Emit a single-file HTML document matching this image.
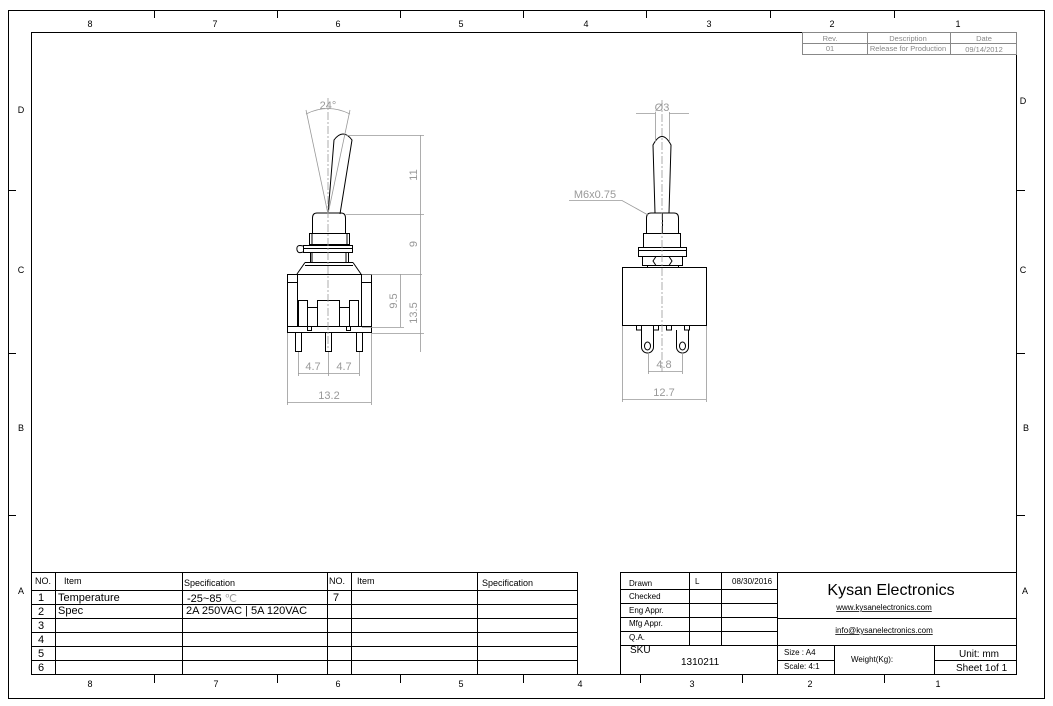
<!DOCTYPE html>
<html><head><meta charset="utf-8"><style>
html,body{margin:0;padding:0;background:#fff;}
svg{display:block;font-family:"Liberation Sans",sans-serif;}
</style></head><body>
<svg width="1053" height="706" viewBox="0 0 1053 706" xmlns="http://www.w3.org/2000/svg">
<rect x="0" y="0" width="1053" height="706" fill="#fff"/>
<g fill="none" stroke="#000" stroke-width="1">
<rect x="8.5" y="10.5" width="1036" height="688"/>
<rect x="31.5" y="32.5" width="985" height="642"/>
<!-- top ticks -->
<path d="M154.5 10v8M277.5 10v8M400.5 10v8M523.5 10v8M646.5 10v8M770.5 10v8M894.5 10v8"/>
<path d="M154.5 675v8M277.5 675v8M400.5 675v8M523.5 675v8M640.5 675v8M742.5 675v8M884.5 675v8"/>
<path d="M8 190.5h8M8 353.5h8M8 515.5h8M1017 190.5h8M1017 353.5h8M1017 515.5h8"/>
</g>
<g font-size="9" fill="#000" text-anchor="middle">
<text x="90" y="27">8</text><text x="215" y="27">7</text><text x="338" y="27">6</text><text x="461" y="27">5</text><text x="586" y="27">4</text><text x="709" y="27">3</text><text x="832" y="27">2</text><text x="958" y="27">1</text>
<text x="90" y="687">8</text><text x="216" y="687">7</text><text x="338" y="687">6</text><text x="461" y="687">5</text><text x="580" y="687">4</text><text x="692" y="687">3</text><text x="810" y="687">2</text><text x="938" y="687">1</text>
<text x="21" y="113">D</text><text x="21" y="273">C</text><text x="21" y="431">B</text><text x="21" y="594">A</text>
<text x="1023" y="104">D</text><text x="1023" y="273">C</text><text x="1026" y="431">B</text><text x="1025" y="594">A</text>
</g>
<!-- rev table -->
<g fill="none" stroke="#888" stroke-width="1">
<rect x="802.5" y="32.5" width="214" height="22"/>
<path d="M802 43.5h214M867.5 32v22M950.5 32v22"/>
</g>
<g font-size="7.5" fill="#888" text-anchor="middle">
<text x="830" y="41">Rev.</text><text x="908" y="41">Description</text><text x="984" y="41">Date</text>
<text x="830" y="51">01</text><text x="908" y="51">Release for Production</text><text x="984" y="52">09/14/2012</text>
</g>

<!-- LEFT VIEW -->
<g fill="none" stroke="#000" stroke-width="1">
<!-- lever -->
<path d="M328 214 L334 140 Q343 128 352 140 L340 214"/>
<path d="M312.5 233 V218 Q312.5 213 317 213 H341 Q345.5 213 345.5 218 V233"/>
<rect x="309.5" y="233.5" width="40" height="11"/>
<path d="M312 233.5v11M347 233.5v11M312 252.5v10M346 252.5v10"/>
<rect x="303.5" y="245.5" width="49" height="7"/>
<path d="M303 248.5h50"/>
<path d="M303 246 Q296 244 297 250 Q298 254 303 252"/>
<rect x="310.5" y="252.5" width="38" height="10"/>
<path d="M305 262.5h48 M305 262.5 L297 274 M353 262.5 L361 274 M305 265.5h48"/>
<rect x="287.5" y="274.5" width="84" height="58"/>
<path d="M287 282.5h10M361 282.5h11M297.5 274v53M361.5 274v53M287 326.5h85"/>
<path d="M298.5 326V300.5h9v26M307.5 307.5h10M317.5 326V300.5h22v26M339.5 307.5h10M349.5 326V300.5h9v26"/>
<path d="M307.5 326.5v4h4v-4M346.5 326.5v4h4v-4"/>
<rect x="295.5" y="332.5" width="6" height="19"/>
<rect x="325.5" y="332.5" width="6" height="19"/>
<rect x="356.5" y="332.5" width="6" height="19"/>
</g>
<g fill="none" stroke="#999" stroke-width="0.8">
<path d="M328 98V350" stroke-dasharray="8 2 2 2"/>
<path d="M328 214 L306 110 M328 214 L350 110 M306 114 Q328 103 350 114"/>
<path d="M346 135.5h78M346 214.5h78M362 274.5h60M372 333.5h52M362 327.5h42"/>
<path d="M420.5 135v217M400.5 274v53"/>
<path d="M298.5 352v24M328.5 352v24M359.5 352v24M298 373.5h61M287.5 333v72M371.5 333v72M287 402.5h84"/>
</g>
<g font-size="11" fill="#999" text-anchor="middle">
<text x="328" y="109">24°</text>
<text x="313" y="370">4.7</text><text x="344" y="370">4.7</text>
<text x="329" y="399">13.2</text>
<text transform="translate(417,175) rotate(-90)">11</text>
<text transform="translate(417,244) rotate(-90)">9</text>
<text transform="translate(417,313) rotate(-90)">13.5</text>
<text transform="translate(397,301) rotate(-90)">9.5</text>
</g>

<!-- RIGHT VIEW -->
<g fill="none" stroke="#000" stroke-width="1">
<path d="M655 213 L653 145 Q662 128 671 145 L669 213"/>
<path d="M646.5 233V218Q646.5 213 651 213H674Q678.5 213 678.5 218V233"/>
<path d="M662.5 213v20"/>
<rect x="643.5" y="233.5" width="37" height="14"/>
<rect x="638.5" y="247.5" width="48" height="9"/>
<path d="M638 250.5h49"/>
<rect x="642.5" y="256.5" width="40" height="9"/>
<path d="M656 256.5l-3 4.5 3 4.5h13l3-4.5-3-4.5"/>
<rect x="647.5" y="265.5" width="31" height="2"/>
<rect x="622.5" y="267.5" width="84" height="58"/>
<path d="M636.5 326v4h5v-4M653.5 326v4h5v-4M666.5 326v4h5v-4M684.5 326v4h5v-4"/>
<path d="M641.5 330v17a6 6 0 0 0 12 0v-17M676.5 330v17a6 6 0 0 0 12 0v-17"/>
<ellipse cx="647.5" cy="346" rx="3" ry="4"/><ellipse cx="682.5" cy="346" rx="3" ry="4"/>
</g>
<g fill="none" stroke="#999" stroke-width="0.8">
<path d="M662 100V372" stroke-dasharray="8 2 2 2"/>
<path d="M655.5 112v30M669.5 112v30M636 113.5h19M669 113.5h20"/>
<path d="M569 200.5h53 L648 215"/>
<path d="M648.5 352v22M682.5 352v22M648 371.5h34M622.5 326v76M706.5 326v76M622 399.5h84"/>
</g>
<g font-size="11" fill="#999" text-anchor="middle">
<text x="662" y="111">Ø3</text>
<text x="595" y="198">M6x0.75</text>
<text x="664" y="368">4.8</text>
<text x="664" y="396">12.7</text>
</g>

<!-- bottom left table -->
<g fill="none" stroke="#000" stroke-width="1">
<rect x="31.5" y="572.5" width="546" height="102"/>
<path d="M31 590.5h546M31 604.5h546M31 618.5h546M31 632.5h546M31 646.5h546M31 660.5h546"/>
<path d="M55.5 572v103M182.5 572v103M327.5 572v103M351.5 572v103M477.5 572v103"/>
</g>
<g font-size="9" fill="#000">
<text x="35" y="584">NO.</text><text x="64" y="584">Item</text><text x="184" y="586">Specification</text>
<text x="329" y="584">NO.</text><text x="357" y="584">Item</text><text x="482" y="586">Specification</text>
</g>
<g font-size="11" fill="#000">
<text x="38" y="601">1</text><text x="38" y="615">2</text><text x="38" y="629">3</text><text x="38" y="643">4</text><text x="38" y="657">5</text><text x="38" y="671">6</text>
<text x="58" y="601">Temperature</text><text x="58" y="614">Spec</text>
<text x="187" y="602">-25~85 <tspan fill="#999">℃</tspan></text><text x="186" y="614">2A 250VAC | 5A 120VAC</text>
<text x="333" y="601">7</text>
</g>

<!-- title block -->
<g fill="none" stroke="#000" stroke-width="1">
<rect x="620.5" y="572.5" width="396" height="102"/>
<path d="M620 589.5h157M620 603.5h157M620 617.5h157M620 631.5h157M620 645.5h397"/>
<path d="M689.5 572v73M721.5 572v73M777.5 572v103M777 618.5h240"/>
<path d="M834.5 645v30M934.5 645v30M777 660.5h57M934 660.5h83"/>
</g>
<g font-size="8" fill="#000">
<text x="629" y="586">Drawn</text><text x="695" y="584">L</text><text x="732" y="584">08/30/2016</text>
<text x="629" y="599">Checked</text><text x="629" y="613">Eng Appr.</text><text x="629" y="626">Mfg Appr.</text><text x="629" y="640">Q.A.</text>
<text x="784" y="655">Size : A4</text><text x="784" y="669">Scale: 4:1</text>
<text x="851" y="662">Weight(Kg):</text>
</g>
<g font-size="10" fill="#000">
<text x="630" y="653">SKU</text><text x="681" y="665">1310211</text>
<text x="959" y="657">Unit: mm</text><text x="956" y="671">Sheet 1of 1</text>
</g>
<text x="891" y="595" font-size="16" fill="#000" text-anchor="middle">Kysan Electronics</text>
<g font-size="8" fill="#000" text-anchor="middle" text-decoration="underline">
<text x="884" y="610">www.kysanelectronics.com</text>
<text x="884" y="633">info@kysanelectronics.com</text>
</g>
</svg>
</body></html>
